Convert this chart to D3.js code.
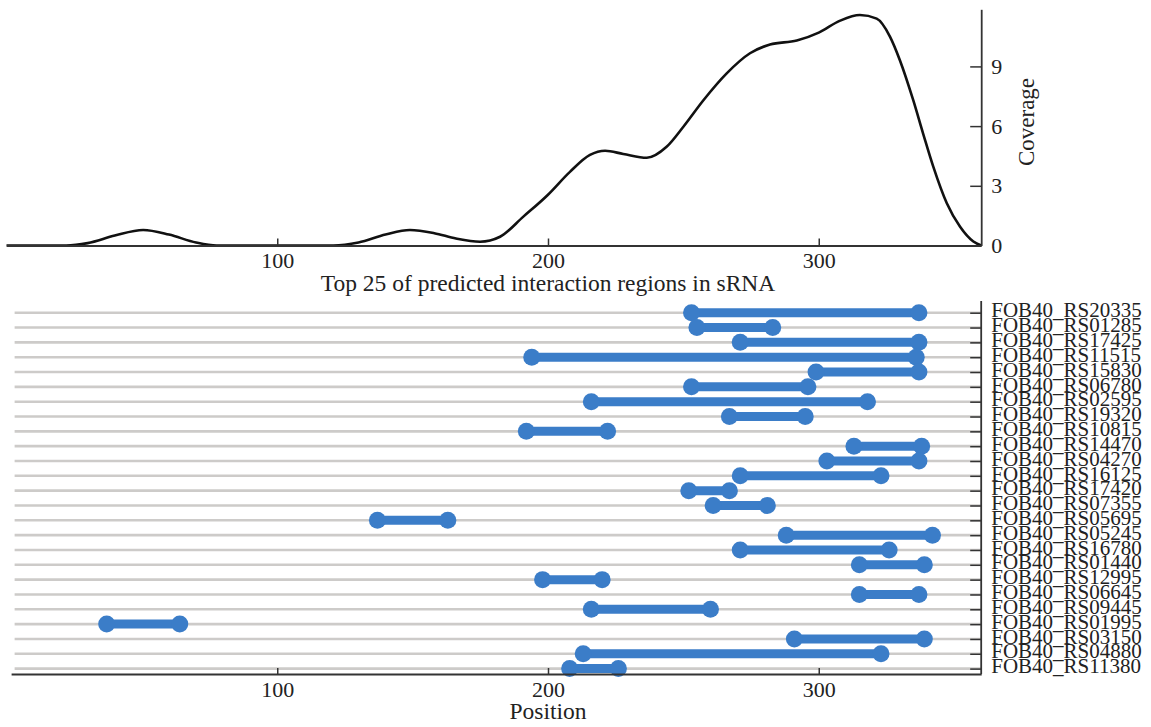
<!DOCTYPE html>
<html>
<head>
<meta charset="utf-8">
<script src="https://cdn.jsdelivr.net/npm/d3@7"></script>
<style>
  body { margin: 0; background: #fff; }
  svg { display: block; }
  text { font-family: "Liberation Serif", "Times New Roman", serif; fill: #222; }
</style>
</head>
<body>
<svg id="chart" width="1151" height="727"></svg>
<script>
// coverage curve (position, coverage)
var coveragePos = [0, 22, 30, 40, 50.5, 60, 70, 77.6, 120.7, 130, 140, 149, 158, 166, 174.9,
  182.3, 190.9, 199.9, 208.1, 215.5, 221.1, 227.8, 236.5, 243.8, 250, 257.4, 266, 274.6,
  282, 291.9, 300, 307.9, 315.2, 321.4, 326.3, 330, 334.9, 338.6, 342.3, 347.3, 352.2, 357.1, 360];
var coverageVal = [0, 0, 0.12, 0.5, 0.78, 0.55, 0.15, 0, 0, 0.15, 0.55, 0.78, 0.62, 0.35, 0.19,
  0.44, 1.45, 2.54, 3.7, 4.55, 4.76, 4.6, 4.41, 4.96, 5.97, 7.3, 8.65, 9.66,
  10.1, 10.3, 10.7, 11.3, 11.58, 11.4, 10.5, 9.3, 7.3, 5.6, 3.96, 2.12, 0.94, 0.2, 0];

// top 25 predicted interaction regions
var regionNames = ["FOB40_RS20335", "FOB40_RS01285", "FOB40_RS17425", "FOB40_RS11515", "FOB40_RS15830",
  "FOB40_RS06780", "FOB40_RS02595", "FOB40_RS19320", "FOB40_RS10815", "FOB40_RS14470",
  "FOB40_RS04270", "FOB40_RS16125", "FOB40_RS17420", "FOB40_RS07355", "FOB40_RS05695",
  "FOB40_RS05245", "FOB40_RS16780", "FOB40_RS01440", "FOB40_RS12995", "FOB40_RS06645",
  "FOB40_RS09445", "FOB40_RS01995", "FOB40_RS03150", "FOB40_RS04880", "FOB40_RS11380"];
var regionStart = [253, 255, 271, 194, 299, 253, 216, 267, 192, 313, 303, 271, 252, 261, 137,
  288, 271, 315, 198, 315, 216, 37, 291, 213, 208];
var regionEnd = [337, 283, 337, 336, 337, 296, 318, 295, 222, 338, 337, 323, 267, 281, 163,
  342, 326, 339, 220, 337, 260, 64, 339, 323, 226];

var coverageTicks = [0, 3, 6, 9];
var positionTicks = [100, 200, 300];

var fontFamily = '"Liberation Serif", "Times New Roman", serif';
var blue = "#3b7dc8";

var svg = d3.select("#chart");

var x = d3.scaleLinear().domain([0, 360]).range([6.5, 981.2]);

// ---------- top: coverage ----------
var yTop = d3.scaleLinear().domain([0, 11.87]).range([245.5, 9.3]);

var coverage = coveragePos.map(function (p, i) { return [p, coverageVal[i]]; });

var line = d3.line()
  .x(function (d) { return x(d[0]); })
  .y(function (d) { return yTop(d[1]); })
  .curve(d3.curveMonotoneX);

svg.append("path")
  .datum(coverage)
  .attr("d", line)
  .attr("fill", "none")
  .attr("stroke", "#111")
  .attr("stroke-width", 2.6);

function styleAxis(g, size) {
  g.attr("font-family", fontFamily).attr("font-size", size);
  g.selectAll(".domain").attr("stroke", "#333").attr("stroke-width", 1.8);
  g.selectAll(".tick line").attr("stroke", "#333").attr("stroke-width", 1.5);
  g.selectAll(".tick text").attr("fill", "#222");
}

var xAxisTop = svg.append("g")
  .attr("transform", "translate(0," + yTop(0) + ")")
  .call(d3.axisBottom(x).tickValues(positionTicks).tickSize(-7).tickSizeOuter(0).tickPadding(7));
styleAxis(xAxisTop, 22);

var yAxisTop = svg.append("g")
  .attr("transform", "translate(" + x(360) + ",0)")
  .call(d3.axisRight(yTop).tickValues(coverageTicks).tickSize(-11).tickSizeOuter(0).tickPadding(10));
styleAxis(yAxisTop, 22);

svg.append("text")
  .attr("transform", "translate(1034,122) rotate(-90)")
  .attr("text-anchor", "middle")
  .attr("font-size", 23)
  .text("Coverage");

svg.append("text")
  .attr("x", x(200))
  .attr("y", 291)
  .attr("text-anchor", "middle")
  .attr("font-size", 23.5)
  .text("Top 25 of predicted interaction regions in sRNA");

// ---------- bottom: regions ----------
var yBot = d3.scalePoint().domain(regionNames).range([312.7, 668.6]);
var axisY = 674;

// grey guide lines
svg.append("g").selectAll("line")
  .data(regionNames)
  .enter()
  .append("line")
  .attr("x1", x(3))
  .attr("x2", x(360))
  .attr("y1", function (d) { return yBot(d); })
  .attr("y2", function (d) { return yBot(d); })
  .attr("stroke", "#cdcbc9")
  .attr("stroke-width", 2.6);

var bars = svg.append("g");
bars.selectAll("line")
  .data(regionNames)
  .enter()
  .append("line")
  .attr("x1", function (d, i) { return x(regionStart[i]); })
  .attr("x2", function (d, i) { return x(regionEnd[i]); })
  .attr("y1", function (d) { return yBot(d); })
  .attr("y2", function (d) { return yBot(d); })
  .attr("stroke", blue)
  .attr("stroke-width", 9);

bars.selectAll("circle.s")
  .data(regionNames)
  .enter()
  .append("circle")
  .attr("class", "s")
  .attr("cx", function (d, i) { return x(regionStart[i]); })
  .attr("cy", function (d) { return yBot(d); })
  .attr("r", 8.5)
  .attr("fill", blue);

bars.selectAll("circle.e")
  .data(regionNames)
  .enter()
  .append("circle")
  .attr("class", "e")
  .attr("cx", function (d, i) { return x(regionEnd[i]); })
  .attr("cy", function (d) { return yBot(d); })
  .attr("r", 8.5)
  .attr("fill", blue);

// bottom x axis
var xBot = x.copy().domain([1.7, 360]).range([x(1.7), x(360)]);
var xAxisBot = svg.append("g")
  .attr("transform", "translate(0," + axisY + ")")
  .call(d3.axisBottom(xBot).tickValues(positionTicks).tickSize(-6).tickSizeOuter(0).tickPadding(7));
styleAxis(xAxisBot, 22);

svg.append("text")
  .attr("x", x(200))
  .attr("y", 719)
  .attr("text-anchor", "middle")
  .attr("font-size", 23.5)
  .text("Position");

// right axis with region names (they sit tight, as in the original)
var yAxisBot = svg.append("g")
  .attr("transform", "translate(" + x(360) + ",0)")
  .call(d3.axisRight(yBot).tickSize(-11).tickPadding(10));
styleAxis(yAxisBot, 21);
yAxisBot.select(".domain").remove();
yAxisBot.selectAll(".tick text").attr("dy", "0.2em");
yAxisBot.append("line")
  .attr("x1", 0).attr("x2", 0)
  .attr("y1", 301).attr("y2", axisY)
  .attr("stroke", "#333")
  .attr("stroke-width", 1.8);
</script>
</body>
</html>
